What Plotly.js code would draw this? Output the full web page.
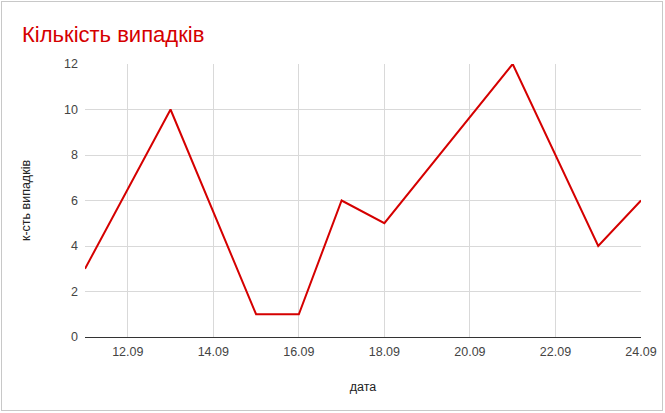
<!DOCTYPE html>
<html>
<head>
<meta charset="utf-8">
<script src="https://cdn.plot.ly/plotly-3.0.1.min.js"></script>
<style>
  body { margin: 0; background: #fff; }
  #wrap { position: relative; width: 665px; height: 413px; }
  #chart { width: 665px; height: 413px; }
  #frame { position: absolute; left: 1px; top: 1px; width: 660px; height: 408px;
           border: 1px solid #c8c8c8; pointer-events: none; }
</style>
</head>
<body>
<div id="wrap">
  <div id="chart"></div>
  <div id="frame"></div>
</div>
<script>
// Day of September for each point and number of cases
const days = [11, 13, 15, 16, 17, 18, 21, 23, 24];
const cases = [3, 10, 1, 1, 6, 5, 12, 4, 6];

// x-axis labels
const tickDays = [12, 14, 16, 18, 20, 22, 24];
const tickLabels = ['12.09', '14.09', '16.09', '18.09', '20.09', '22.09', '24.09'];
const yTicks = [0, 2, 4, 6, 8, 10, 12];

const font = 'Arial, "Liberation Sans", sans-serif';

Plotly.newPlot('chart', [{
    x: days,
    y: cases,
    type: 'scatter',
    mode: 'lines',
    line: { color: '#d50000', width: 2 },
    hoverinfo: 'skip'
}], {
    width: 665,
    height: 413,
    margin: { l: 85, r: 24, t: 64, b: 76 },
    paper_bgcolor: '#fff',
    plot_bgcolor: '#fff',
    showlegend: false,
    font: { family: font, size: 12.5, color: '#444' },
    title: {
        text: 'Кількість випадків',
        font: { family: font, size: 22, color: '#d50000' },
        x: 22 / 665, xanchor: 'left', xref: 'container',
        y: 1 - 34 / 413, yanchor: 'middle', yref: 'container'
    },
    xaxis: {
        range: [11, 24],
        tickmode: 'array',
        tickvals: tickDays,
        ticktext: tickLabels,
        showgrid: true,
        gridcolor: '#d9d9d9',
        gridwidth: 1,
        zeroline: false,
        showline: true,
        linecolor: '#333',
        linewidth: 1,
        ticks: '',
        ticklabelstandoff: 3,
        tickfont: { size: 12.5, color: '#444' },
        title: { text: 'дата', font: { size: 12.5, color: '#222' }, standoff: 24 },
        automargin: false
    },
    yaxis: {
        range: [0, 12],
        tickmode: 'array',
        tickvals: yTicks,
        showgrid: true,
        gridcolor: '#d9d9d9',
        gridwidth: 1,
        zeroline: false,
        showline: false,
        ticks: '',
        ticklen: 0,
        ticklabelstandoff: 6,
        tickfont: { size: 12.5, color: '#444' },
        title: { text: 'к-сть випадків', font: { size: 12.5, color: '#222' }, standoff: 30 },
        automargin: false
    }
}, { displayModeBar: false, staticPlot: true });
</script>
</body>
</html>
